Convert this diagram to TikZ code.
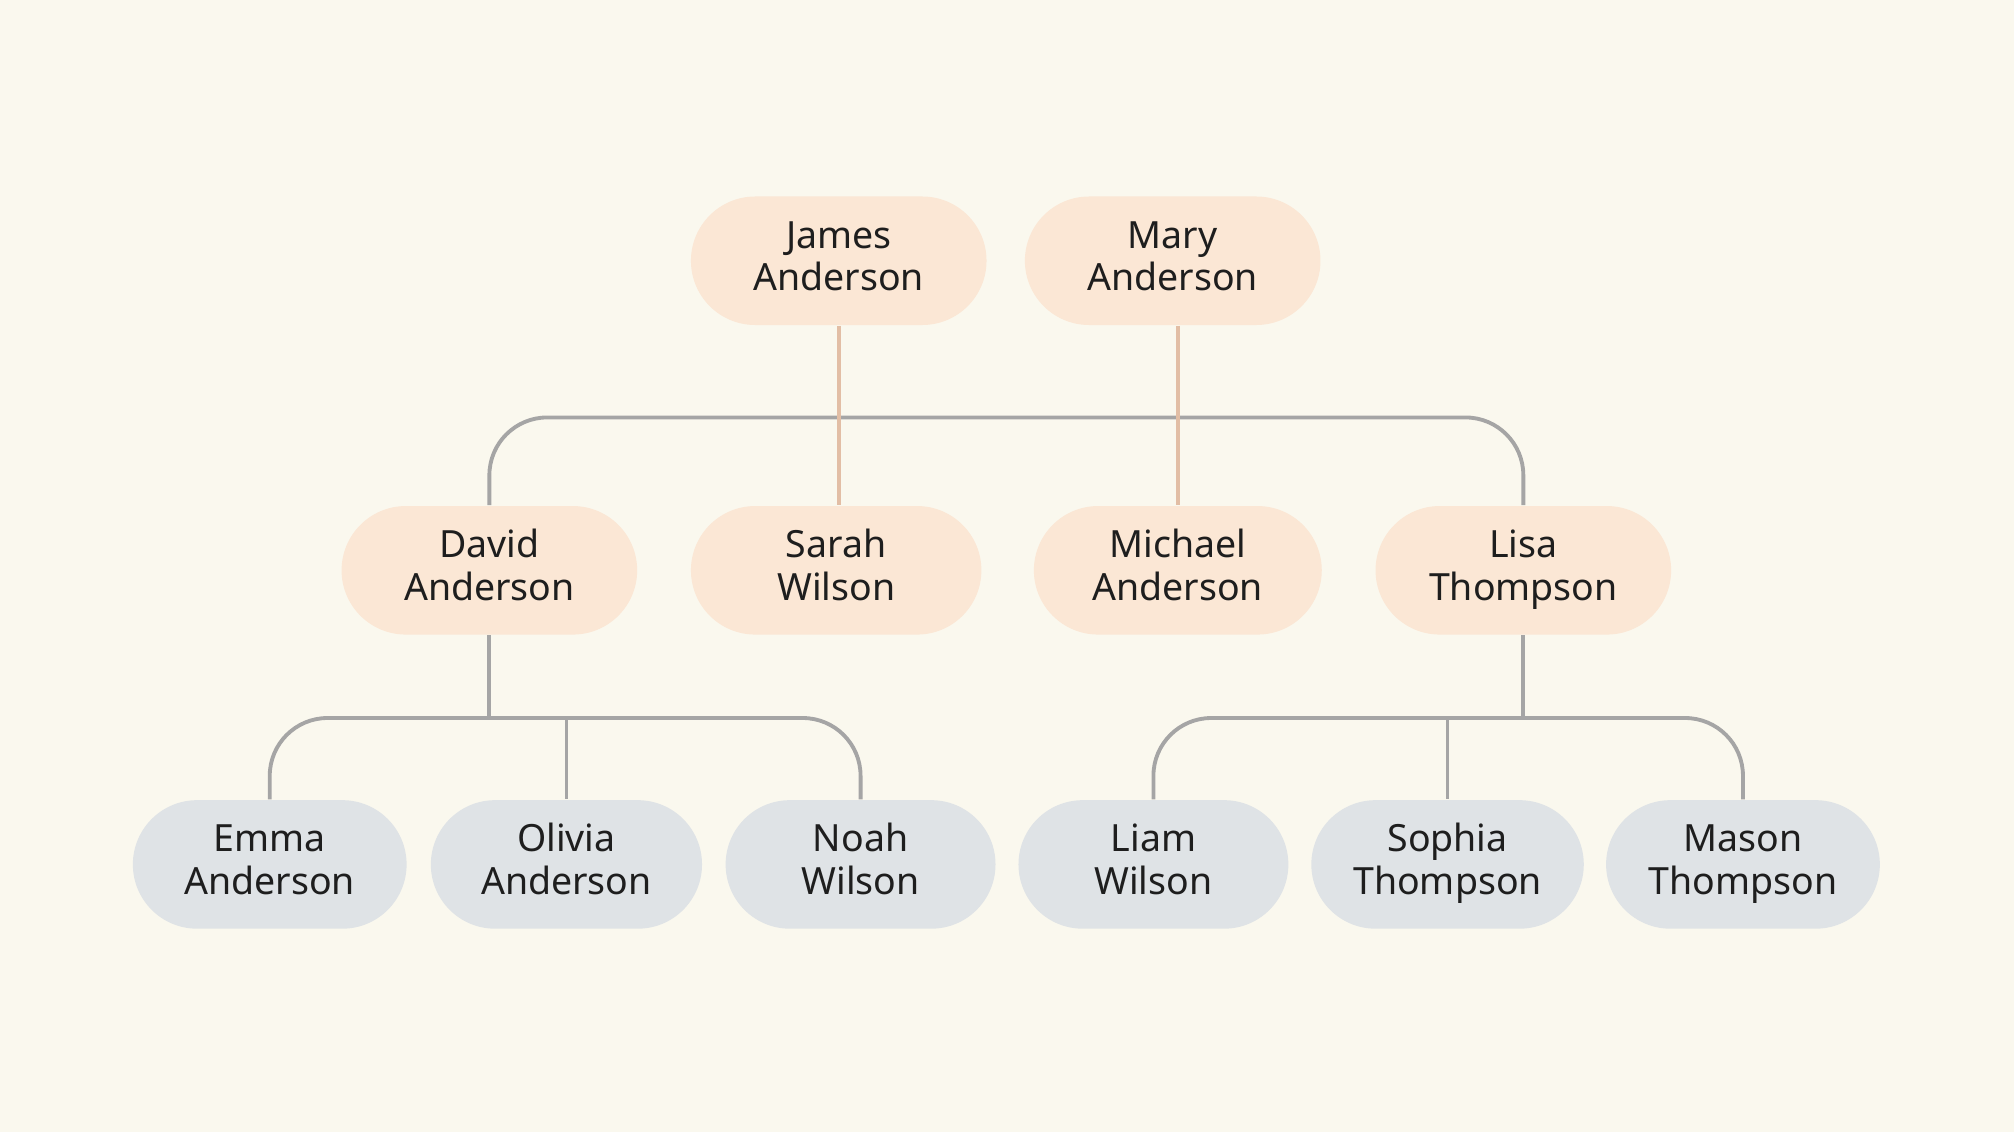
\documentclass[tikz,border=0pt]{standalone}
\usepackage{fontspec}
\setmainfont{Noto Sans}
\usetikzlibrary{positioning}
\definecolor{paper}{RGB}{250,248,238}
\definecolor{peach}{RGB}{251,231,213}
\definecolor{mist}{RGB}{223,227,230}
\definecolor{rustline}{RGB}{226,190,165}
\definecolor{greyline}{RGB}{165,165,165}
\definecolor{ink}{RGB}{30,30,30}
\newcommand{\twoline}[2]{\strut#1\\\strut#2}
\tikzstyle{person}=[rectangle,rounded corners=0.5cm,minimum height=1cm,text=ink,
  align=center,font=\fontsize{8.3}{9.4}\selectfont,inner sep=0pt]
\tikzstyle{elder}=[person,fill=peach]
\tikzstyle{child}=[person,fill=mist]
\tikzstyle{rustpath}=[draw=rustline,line width=0.3mm]
\tikzstyle{greypath}=[draw=greyline,line width=0.3mm,rounded corners=0.45cm]

\begin{document}
\begin{tikzpicture}[x=0.01cm,y=-0.01cm]
    \useasboundingbox (0,0) rectangle (1568,881);
    \fill[paper] (0,0) rectangle (1568,881);

    % grandparents
    \node[elder,minimum width=2.3cm] (james) at (653,203) {\twoline{James}{Anderson}};
    \node[elder,minimum width=2.3cm] (mary) at (913,203) {\twoline{Mary}{Anderson}};

    % second generation
    \node[elder,minimum width=2.3cm] (david) at (381,444) {\twoline{David}{Anderson}};
    \node[elder,minimum width=2.26cm] (sarah) at (651,444) {\twoline{Sarah}{Wilson}};
    \node[elder,minimum width=2.24cm] (michael) at (917,444) {\twoline{Michael}{Anderson}};
    \node[elder,minimum width=2.3cm] (lisa) at (1186,444) {\twoline{Lisa}{Thompson}};

    % third generation
    \node[child,minimum width=2.13cm] (emma) at (210,673) {\twoline{Emma}{Anderson}};
    \node[child,minimum width=2.11cm] (olivia) at (441,673) {\twoline{Olivia}{Anderson}};
    \node[child,minimum width=2.1cm] (noah) at (670,673) {\twoline{Noah}{Wilson}};
    \node[child,minimum width=2.1cm] (liam) at (898,673) {\twoline{Liam}{Wilson}};
    \node[child,minimum width=2.12cm] (sophia) at (1127,673) {\twoline{Sophia}{Thompson}};
    \node[child,minimum width=2.13cm] (mason) at (1357,673) {\twoline{Mason}{Thompson}};

    \coordinate (topbar) at (653,325);
    \coordinate (leftbar) at (441,559);
    \coordinate (rightbar) at (1127,559);

    \draw[greypath] (david.north) |- (topbar) -| (lisa.north);
    \draw[rustpath] (james.south) -- (james.south |- sarah.north);
    \draw[rustpath] (mary.south -| michael.north) -- (michael.north);

    \draw[greypath] (david.south) -- (david.south |- leftbar);
    \draw[greypath] (emma.north) |- (leftbar) -| (noah.north);
    \draw[greypath] (leftbar) -- (olivia.north);

    \draw[greypath] (lisa.south) -- (lisa.south |- rightbar);
    \draw[greypath] (liam.north) |- (rightbar) -| (mason.north);
    \draw[greypath] (rightbar) -- (sophia.north);
\end{tikzpicture}
\end{document}
